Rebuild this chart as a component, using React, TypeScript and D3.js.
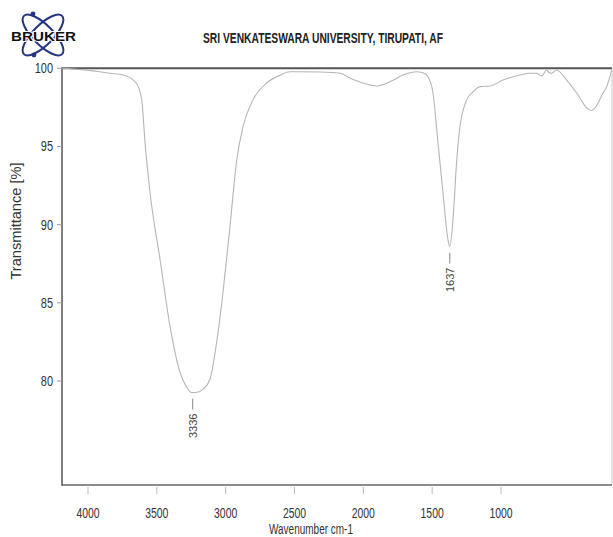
import React from "react";
import * as d3 from "d3";

// Spectrum samples (wavenumber cm-1, transmittance %)
const wavenumbers = [
  4200, 4081, 3960, 3883, 3795, 3729, 3696, 3673, 3651, 3618, 3552, 3486, 3420, 3376, 3343, 3308,
  3268, 3222, 3178, 3136, 3090, 3045, 3004, 2938, 2847, 2757, 2693, 2627, 2495, 2363, 2297, 2211,
  2120, 2032, 1946, 1856, 1814, 1781, 1748, 1715, 1682, 1649, 1637, 1616, 1591, 1570, 1525, 1484,
  1437, 1371, 1285, 1173, 1107, 1063, 1030, 997, 981, 964, 931, 865, 798, 732, 699, 677, 624, 600, 567,
];
const transmittance = [
  100.0, 99.92, 99.8, 99.68, 99.57, 99.25, 98.83, 97.98, 95.23, 92.04, 87.77, 83.49, 80.55, 79.6, 79.26, 79.28,
  79.47, 80.11, 82.47, 85.66, 89.87, 94.15, 96.25, 97.98, 99.06, 99.57, 99.78, 99.78, 99.76, 99.68, 99.38, 99.06,
  98.87, 99.14, 99.57, 99.78, 99.72, 99.46, 98.42, 95.23, 92.04, 89.04, 88.6, 90.32, 94.15, 96.25, 97.98, 98.49,
  98.83, 98.87, 99.25, 99.57, 99.68, 99.68, 99.51, 99.89, 99.73, 99.68, 99.89, 99.25, 98.42, 97.47, 97.29, 97.47, 98.42, 98.83, 99.89,
];

const peakPositions = [3336, 1637];
const peakValues = [79.26, 88.6];

const xTickValues = [4000, 3500, 3000, 2500, 2000, 1500, 1000];
const yTickValues = [80, 85, 90, 95, 100];

const titleText = "SRI VENKATESWARA UNIVERSITY,  TIRUPATI,  AF";
const xLabel = "Wavenumber cm-1";
const yLabel = "Transmittance [%]";
const logoText = "BRUKER";

const FONT = "'Liberation Sans', Arial, sans-serif";

export default function App() {
  const W = 613;
  const H = 537;
  const left = 62;
  const right = 612;
  const top = 68.3;
  const bottom = 485;

  // plot frame scale for the spectrum trace
  const xData = d3.scaleLinear().domain([4200, 565]).range([left, right]);
  // separate printed wavenumber axis below the frame
  const xAxis = d3.scaleLinear().domain([4000, 1000]).range([88, 501]);
  const y = d3.scaleLinear().domain([73.35, 100]).range([bottom, top]);

  const pts: [number, number][] = wavenumbers.map((w, i) => [w, transmittance[i]]);
  const line = d3
    .line<[number, number]>()
    .x((d) => xData(d[0]))
    .y((d) => y(d[1]))
    .curve(d3.curveMonotoneX);

  const logoCx = 43;
  const logoCy = 35;

  return (
    <svg
      width={W}
      height={H}
      style={{ position: "absolute", left: 0, top: 0, background: "#fff" }}
      fontFamily={FONT}
    >
      <rect x={0} y={0} width={W} height={H} fill="#fff" />

      {/* Logo */}
      <g>
        <ellipse
          cx={logoCx}
          cy={logoCy}
          rx={27}
          ry={10}
          fill="none"
          stroke="#26357f"
          strokeWidth={2}
          transform={`rotate(45 ${logoCx} ${logoCy})`}
        />
        <ellipse
          cx={logoCx}
          cy={logoCy}
          rx={27}
          ry={10}
          fill="none"
          stroke="#26357f"
          strokeWidth={2}
          transform={`rotate(-45 ${logoCx} ${logoCy})`}
        />
        <circle cx={33} cy={14} r={2.4} fill="#26357f" />
        <circle cx={34} cy={55} r={2.4} fill="#26357f" />
        <text
          x={11}
          y={41}
          fontWeight="bold"
          fontSize={12.5}
          fill="#111"
          stroke="#fff"
          strokeWidth={2}
          paintOrder="stroke"
          textLength={65}
          lengthAdjust="spacingAndGlyphs"
        >
          {logoText}
        </text>
      </g>

      {/* Title */}
      <text
        x={323}
        y={43}
        textAnchor="middle"
        fontWeight="bold"
        fontSize={14}
        fill="#222"
        textLength={240}
        lengthAdjust="spacingAndGlyphs"
      >
        {titleText}
      </text>

      {/* Frame */}
      <line x1={right} y1={top} x2={right} y2={bottom} stroke="#c8c8c8" strokeWidth={1} />
      <line x1={left} y1={bottom} x2={right} y2={bottom} stroke="#666" strokeWidth={1.5} />
      <line x1={left} y1={top} x2={right} y2={top} stroke="#555" strokeWidth={2} />
      <line x1={left} y1={top - 1} x2={left} y2={bottom + 0.75} stroke="#555" strokeWidth={1.5} />

      {/* Y axis */}
      {yTickValues.map((v) => (
        <g key={v}>
          <line x1={57} x2={left} y1={y(v)} y2={y(v)} stroke="#999" strokeWidth={1} />
          <text
            x={53}
            y={y(v) + 5}
            textAnchor="end"
            fontSize={14}
            fill="#333"
            textLength={String(v).length * 6.1}
            lengthAdjust="spacingAndGlyphs"
          >
            {v}
          </text>
        </g>
      ))}
      <text
        transform={`translate(21 221) rotate(-90)`}
        textAnchor="middle"
        fontSize={14}
        fill="#333"
        textLength={117}
        lengthAdjust="spacingAndGlyphs"
      >
        {yLabel}
      </text>

      {/* X axis */}
      {xTickValues.map((v) => (
        <g key={v}>
          <line x1={xAxis(v)} x2={xAxis(v)} y1={487} y2={494} stroke="#bbb" strokeWidth={1} />
          <text
            x={xAxis(v)}
            y={518}
            textAnchor="middle"
            fontSize={14}
            fill="#333"
            textLength={String(v).length * 5.8}
            lengthAdjust="spacingAndGlyphs"
          >
            {v}
          </text>
        </g>
      ))}
      <text
        x={311}
        y={534}
        textAnchor="middle"
        fontSize={14}
        fill="#333"
        textLength={84}
        lengthAdjust="spacingAndGlyphs"
      >
        {xLabel}
      </text>

      {/* Spectrum */}
      <path d={line(pts) || ""} fill="none" stroke="#b5b5b5" strokeWidth={1.1} />

      {/* Peak markers */}
      {peakPositions.map((p, i) => {
        const px = xData(p);
        const py = y(peakValues[i]);
        return (
          <g key={p}>
            <line x1={px} x2={px} y1={py + 6} y2={py + 17} stroke="#888" strokeWidth={1} />
            <text
              transform={`translate(${px + 4} ${py + 21}) rotate(-90)`}
              textAnchor="end"
              fontSize={11}
              fill="#444"
            >
              {String(p)}
            </text>
          </g>
        );
      })}
    </svg>
  );
}
